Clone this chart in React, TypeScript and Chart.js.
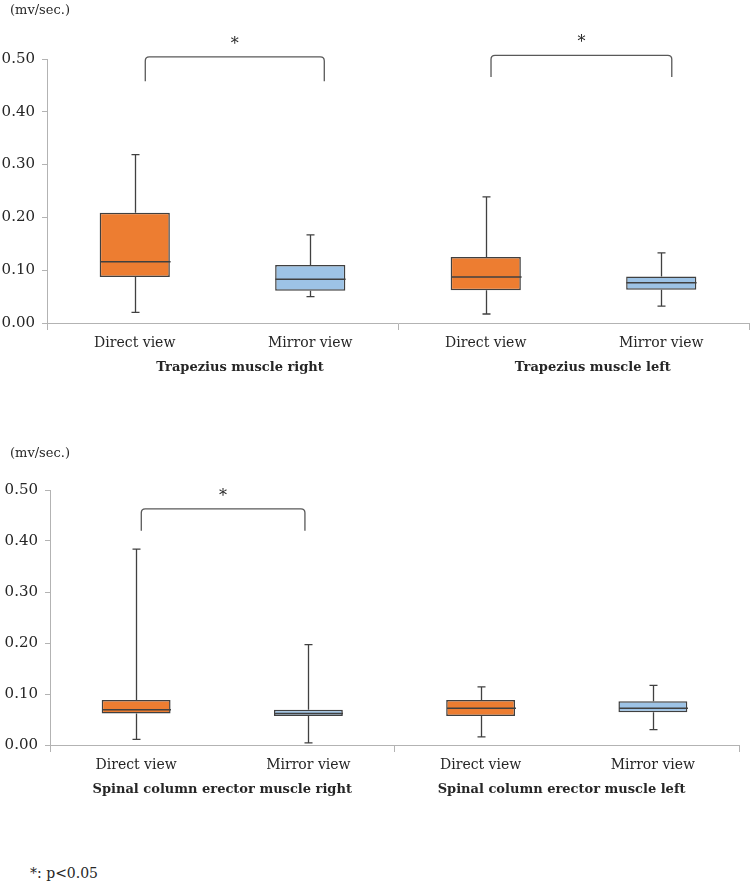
import React, { useEffect, useRef } from "react";
import { Chart, registerables } from "chart.js";

Chart.register(...registerables);

// ---------- data ----------
const categories = ["Direct view", "Mirror view", "Direct view", "Mirror view"];
const topGroups = ["Trapezius muscle right", "Trapezius muscle left"];
const topGroupPos = [0.6, 2.61];
const bottomGroups = ["Spinal column erector muscle right", "Spinal column erector muscle left"];
const bottomGroupPos = [0.5, 2.47];
const yTicks = [0, 0.1, 0.2, 0.3, 0.4, 0.5];
const yUnit = "(mv/sec.)";
const footnote = "*: p<0.05";

// Trapezius (top panel)
const topMin = [0.02, 0.05, 0.017, 0.032];
const topQ1 = [0.087, 0.061, 0.062, 0.063];
const topMedian = [0.116, 0.083, 0.087, 0.076];
const topQ3 = [0.209, 0.11, 0.125, 0.088];
const topMax = [0.319, 0.167, 0.239, 0.133];

// Spinal column erector (bottom panel)
const botMin = [0.011, 0.004, 0.016, 0.03];
const botQ1 = [0.062, 0.057, 0.057, 0.064];
const botMedian = [0.069, 0.062, 0.072, 0.072];
const botQ3 = [0.088, 0.069, 0.088, 0.086];
const botMax = [0.384, 0.197, 0.114, 0.117];

// significance brackets (category positions and value levels)
const topBracketFrom = [0.06, 2.03];
const topBracketTo = [1.08, 3.06];
const topBracketTop = [0.504, 0.507];
const topBracketFoot = [0.458, 0.466];
const topBracketLabel = ["*", "*"];

const botBracketFrom = [0.03];
const botBracketTo = [0.98];
const botBracketTop = [0.463];
const botBracketFoot = [0.42];
const botBracketLabel = ["*"];

const boxColors = ["#ED7D31", "#9DC3E6", "#ED7D31", "#9DC3E6"];

const FONT = "'DejaVu Serif', serif";
const AXIS = "#b3b3b3";
const INK = "#404040";
const TEXT = "#262626";

type PanelProps = {
  top: number;
  height: number;
  yAxisWidth: number;
  padTop: number;
  padRight: number;
  unitY: number;
  groups: string[];
  groupPos: number[];
  min: number[];
  q1: number[];
  median: number[];
  q3: number[];
  max: number[];
  bFrom: number[];
  bTo: number[];
  bTop: number[];
  bFoot: number[];
  bLabel: string[];
};

function Panel(p: PanelProps) {
  const ref = useRef<HTMLCanvasElement | null>(null);

  useEffect(() => {
    if (!ref.current) return;

    const extras = {
      id: "boxExtras",
      afterDatasetsDraw(chart: any) {
        const { ctx, scales } = chart;
        const x = scales.x;
        const y = scales.y;
        const meta = chart.getDatasetMeta(0);
        ctx.save();
        ctx.strokeStyle = INK;
        ctx.lineWidth = 1.3;
        const cap = 4;
        p.min.forEach((_, i) => {
          const cx = Math.round(x.getPixelForValue(i)) + 0.5;
          const el: any = meta.data[i];
          const half = el.width / 2;
          const yMin = y.getPixelForValue(p.min[i]);
          const yMax = y.getPixelForValue(p.max[i]);
          const yQ1 = y.getPixelForValue(p.q1[i]);
          const yQ3 = y.getPixelForValue(p.q3[i]);
          const yMed = y.getPixelForValue(p.median[i]);
          ctx.beginPath();
          ctx.moveTo(cx, yQ3);
          ctx.lineTo(cx, yMax);
          ctx.moveTo(cx - cap, yMax);
          ctx.lineTo(cx + cap, yMax);
          ctx.moveTo(cx, yQ1);
          ctx.lineTo(cx, yMin);
          ctx.moveTo(cx - cap, yMin);
          ctx.lineTo(cx + cap, yMin);
          ctx.stroke();
          ctx.beginPath();
          ctx.lineWidth = 1.5;
          ctx.moveTo(cx - half, yMed);
          ctx.lineTo(cx + half, yMed);
          ctx.stroke();
          ctx.lineWidth = 1.3;
        });

        // brackets
        ctx.strokeStyle = "#595959";
        ctx.lineWidth = 1.3;
        const r = 4;
        p.bFrom.forEach((_, i) => {
          const x1 = x.getPixelForValue(p.bFrom[i]);
          const x2 = x.getPixelForValue(p.bTo[i]);
          const yt = y.getPixelForValue(p.bTop[i]);
          const yb = y.getPixelForValue(p.bFoot[i]);
          ctx.beginPath();
          ctx.moveTo(x1, yb);
          ctx.lineTo(x1, yt + r);
          ctx.quadraticCurveTo(x1, yt, x1 + r, yt);
          ctx.lineTo(x2 - r, yt);
          ctx.quadraticCurveTo(x2, yt, x2, yt + r);
          ctx.lineTo(x2, yb);
          ctx.stroke();
          ctx.fillStyle = TEXT;
          ctx.font = `16px ${FONT}`;
          ctx.textAlign = "center";
          ctx.textBaseline = "middle";
          ctx.fillText(p.bLabel[i], (x1 + x2) / 2, yt - 12);
        });

        // group titles under the category labels
        ctx.fillStyle = TEXT;
        ctx.font = `bold 13px ${FONT}`;
        ctx.textAlign = "center";
        ctx.textBaseline = "middle";
        p.groups.forEach((g, i) => {
          ctx.fillText(g, x.getPixelForValue(p.groupPos[i]), x.top + 45);
        });

        // unit label
        ctx.font = `13px ${FONT}`;
        ctx.textAlign = "left";
        ctx.fillText(yUnit, 10, p.unitY);
        ctx.restore();
      },
    };

    const chart = new Chart(ref.current, {
      type: "bar",
      data: {
        labels: categories,
        datasets: [
          {
            data: p.q1.map((v, i) => [v, p.q3[i]]) as any,
            backgroundColor: boxColors,
            borderColor: INK,
            borderWidth: 1.5,
            borderSkipped: false,
            barPercentage: 0.4,
            categoryPercentage: 1,
          },
        ],
      },
      options: {
        responsive: false,
        animation: false,
        devicePixelRatio: 1,
        layout: { padding: { top: p.padTop, right: p.padRight, left: 0, bottom: 0 } },
        plugins: { legend: { display: false }, tooltip: { enabled: false } },
        scales: {
          x: {
            type: "category",
            offset: true,
            grid: {
              display: true,
              drawOnChartArea: false,
              drawTicks: true,
              offset: true,
              tickLength: 7,
              color: (c: any) => (c.index === undefined || c.index % 2 === 0 ? AXIS : "rgba(0,0,0,0)"),
            },
            border: { display: true, color: AXIS, width: 1 },
            ticks: {
              autoSkip: false,
              maxRotation: 0,
              padding: 5,
              color: TEXT,
              font: { family: FONT, size: 14 },
            },
            afterFit: (s: any) => {
              s.height = 58;
            },
          },
          y: {
            min: 0,
            max: 0.5,
            grid: {
              display: true,
              drawOnChartArea: false,
              drawTicks: true,
              tickLength: 5,
              color: AXIS,
            },
            border: { display: true, color: AXIS, width: 1 },
            afterBuildTicks: (s: any) => {
              s.ticks = yTicks.map((v) => ({ value: v }));
            },
            ticks: {
              padding: 7,
              color: TEXT,
              font: { family: FONT, size: 15 },
              callback: (v: any) => Number(v).toFixed(2),
            },
            afterFit: (s: any) => {
              s.width = p.yAxisWidth;
            },
          },
        },
      },
      plugins: [extras],
    });
    return () => chart.destroy();
  }, []);

  return (
    <canvas
      ref={ref}
      width={750}
      height={p.height}
      style={{ position: "absolute", left: 0, top: p.top, width: 750, height: p.height, display: "block" }}
    />
  );
}

export default function App() {
  return (
    <div style={{ position: "absolute", left: 0, top: 0, width: 750, height: 882, background: "#fff", overflow: "hidden" }}>
      <Panel
        top={0}
        height={381}
        yAxisWidth={47}
        padTop={59}
        padRight={1}
        unitY={11}
        groups={topGroups}
        groupPos={topGroupPos}
        min={topMin}
        q1={topQ1}
        median={topMedian}
        q3={topQ3}
        max={topMax}
        bFrom={topBracketFrom}
        bTo={topBracketTo}
        bTop={topBracketTop}
        bFoot={topBracketFoot}
        bLabel={topBracketLabel}
      />
      <Panel
        top={440}
        height={363}
        yAxisWidth={50}
        padTop={50}
        padRight={11}
        unitY={14}
        groups={bottomGroups}
        groupPos={bottomGroupPos}
        min={botMin}
        q1={botQ1}
        median={botMedian}
        q3={botQ3}
        max={botMax}
        bFrom={botBracketFrom}
        bTo={botBracketTo}
        bTop={botBracketTop}
        bFoot={botBracketFoot}
        bLabel={botBracketLabel}
      />
      <div
        style={{
          position: "absolute",
          left: 30,
          top: 864,
          fontFamily: FONT,
          fontSize: 14,
          color: TEXT,
          lineHeight: "18px",
          whiteSpace: "nowrap",
        }}
      >
        {footnote}
      </div>
    </div>
  );
}
